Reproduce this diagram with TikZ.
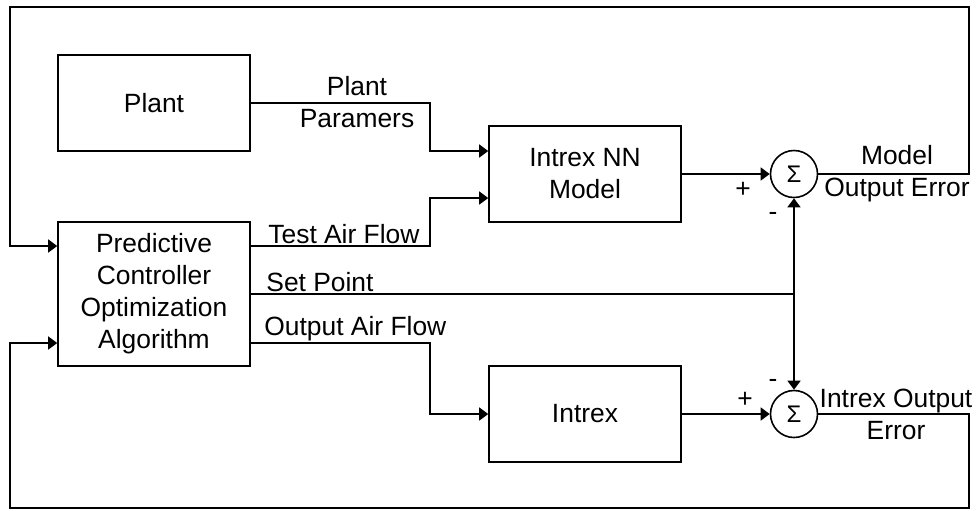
\documentclass[tikz,border=0pt]{standalone}
\usepackage{fontspec}
\setmainfont{Liberation Sans}
\usetikzlibrary{arrows.meta}

\tikzset{
  block/.style={draw, line width=0.8pt, minimum width=96pt, minimum height=48pt, inner sep=0pt, align=center},
  sumnode/.style={draw, circle, line width=0.8pt, minimum size=23.5pt, inner sep=0pt, font=\fontsize{12}{12}\selectfont},
  flow/.style={line width=0.8pt, -{Triangle[length=4.5pt,width=6.5pt]}},
  wire/.style={line width=0.8pt},
  lbl/.style={inner sep=1pt, align=center},
}

\begin{document}
\begin{tikzpicture}[x=0.5pt, y=-0.5pt, font=\fontsize{13.2}{16}\selectfont]
    \useasboundingbox (0,0) rectangle (979,510);
%    \draw [color=gray] [step=50] (0,0) grid (979,510);

    % blocks
    \node[block] (plant) at (154,103) {Plant};
    \node[block, minimum height=72pt] (ctrl) at (154,294) {Predictive\\Controller\\Optimization\\Algorithm};
    \node[block] (nnmodel) at (585,174) {Intrex NN\\Model};
    \node[block] (intrex) at (585,414) {Intrex};
    \node[sumnode] (sumA) at (794,174) {Σ};
    \node[sumnode] (sumB) at (794,414) {Σ};

    % corners of the two loops
    \coordinate (tl) at (10,7);
    \coordinate (tr) at (969,7);
    \coordinate (bl) at (10,508);
    \coordinate (br) at (969,508);
    \coordinate (sp) at (794,294);

    % signals into the model
    \draw[flow] (plant.east) -- ++(179,0) |- ([yshift=11.5pt]nnmodel.west);
    \node[lbl] at (357,102) {Plant\\Paramers};
    \draw[flow] ([yshift=24pt]ctrl.east) -- ++(179,0) |- ([yshift=-12pt]nnmodel.west);
    \node[lbl, anchor=south west] at (266,246) {Test Air Flow};

    % set point
    \draw[wire] (ctrl.east) -- (sp);
    \node[lbl, anchor=south west] at (264,294) {Set Point};
    \draw[flow] (sp) -- (sumA.south);
    \draw[flow] (sp) -- (sumB.north);

    % output air flow
    \draw[flow] ([yshift=-24.5pt]ctrl.east) -- ++(179,0) |- (intrex.west);
    \node[lbl, anchor=south west] at (262,343) {Output Air Flow};

    % summing junctions
    \draw[flow] (nnmodel) -- (sumA);
    \draw[flow] (intrex) -- (sumB);
    \node at (743,190) {+};
    \node at (773,216) {-};
    \node at (773,383) {-};
    \node at (745,400) {+};

    % error feedback
    \draw[flow] (sumA.east) -| (tr) -- (tl) |- ([yshift=24pt]ctrl.west);
    \node[lbl] at (897,174) {Model\\Output Error};
    \draw[flow] (sumB.east) -| (br) -- (bl) |- ([yshift=-24.5pt]ctrl.west);
    \node[lbl] at (896,414) {Intrex Output\\Error};
\end{tikzpicture}
\end{document}
